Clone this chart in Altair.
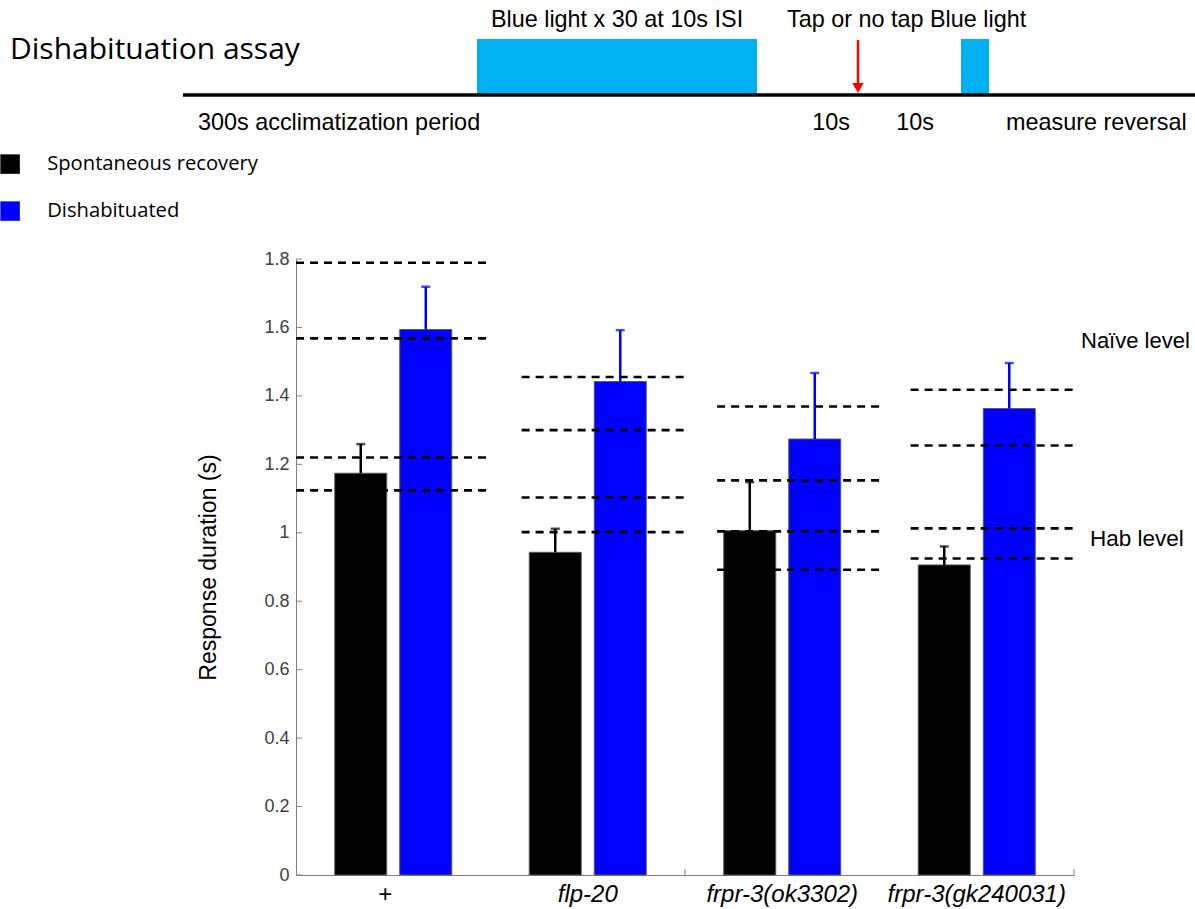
import altair as alt
import pandas as pd

# Genotypes on the x axis
groups = ["+", "flp-20", "frpr-3(ok3302)", "frpr-3(gk240031)"]
conditions = ["Spontaneous recovery", "Dishabituated"]

# Mean response duration (s) and upper SEM for each condition
spont_mean = [1.174, 0.943, 1.006, 0.906]
spont_sem = [0.085, 0.069, 0.142, 0.054]
dishab_mean = [1.594, 1.442, 1.274, 1.363]
dishab_sem = [0.125, 0.150, 0.193, 0.133]

# Reference levels per genotype: naive level band and habituated level band
naive_hi = [1.789, 1.455, 1.369, 1.418]
naive_lo = [1.568, 1.300, 1.153, 1.255]
hab_hi = [1.220, 1.103, 1.004, 1.013]
hab_lo = [1.124, 1.002, 0.892, 0.925]
# horizontal extent of the reference lines, in genotype units (0..4)
level_start = [0.0, 1.16, 2.165, 3.16]
level_end = [0.99, 2.0, 3.0, 4.0]

y_ticks = [0, 0.2, 0.4, 0.6, 0.8, 1.0, 1.2, 1.4, 1.6, 1.8]
x_inner_ticks = [2, 4]

BLACK = "#000000"
BLUE = "#0000ff"
CYAN = "#00b0f0"
SANS = "Liberation Sans"
W, H = 778, 616

bars = pd.DataFrame({
    "genotype": groups * 2,
    "condition": [conditions[0]] * 4 + [conditions[1]] * 4,
    "mean": spont_mean + dishab_mean,
    "sem": spont_sem + dishab_sem,
})
bars["upper"] = bars["mean"] + bars["sem"]

levels = pd.DataFrame({
    "start": level_start * 4,
    "end": level_end * 4,
    "level": naive_hi + naive_lo + hab_hi + hab_lo,
})

x_band = alt.X(
    "genotype:N",
    sort=groups,
    scale=alt.Scale(paddingInner=0, paddingOuter=0),
    axis=alt.Axis(
        title=None, ticks=False, domainColor="#808080", domainWidth=1,
        labelAngle=0, labelFont=SANS, labelFontSize=24, labelColor=BLACK,
        labelPadding=7, labelLimit=0,
        labelOffset=alt.condition("datum.value == '+'", alt.value(-8), alt.value(0)),
        labelFontStyle=alt.condition("datum.value == '+'", alt.value("normal"), alt.value("italic")),
    ),
)
x_off = alt.XOffset(
    "condition:N", sort=conditions,
    scale=alt.Scale(paddingInner=0.2, paddingOuter=0.596),
)
y_scale = alt.Scale(domain=[0, 1.8], nice=False, zero=True)
color = alt.Color(
    "condition:N",
    sort=conditions,
    scale=alt.Scale(domain=conditions, range=[BLACK, BLUE]),
    legend=alt.Legend(
        title=None, orient="none", legendX=-296, legendY=-105,
        symbolType="square", symbolSize=380, symbolStrokeWidth=0,
        symbolOpacity=1, labelFont="Open Sans", labelFontSize=20.2,
        labelColor=BLACK, labelOffset=27, rowPadding=26, labelLimit=0,
    ),
)

base = alt.Chart(bars)

bar_layer = base.mark_bar(stroke="#5a5a5a", strokeWidth=1, opacity=1).encode(
    x=x_band,
    xOffset=x_off,
    y=alt.Y(
        "mean:Q", scale=y_scale,
        axis=alt.Axis(
            values=y_ticks, format="~g", grid=False, ticks=False,
            domainColor="#808080", domainWidth=1,
            labelFont=SANS, labelFontSize=18, labelColor="#404040", labelPadding=7,
            title="Response duration (s)", titleFont=SANS, titleFontSize=23,
            titleFontWeight="normal", titleColor=BLACK, titlePadding=43,
        ),
    ),
    color=color,
)

# one-sided SEM whiskers with a short cap
err_rule = base.mark_rule(strokeWidth=2.5).encode(
    x=x_band,
    xOffset=x_off,
    y="mean:Q",
    y2="upper:Q",
    color=alt.Color("condition:N", sort=conditions, legend=None),
)
err_cap = base.mark_tick(orient="horizontal", size=9, thickness=2.5).encode(
    x=x_band,
    xOffset=x_off,
    y="upper:Q",
    color=alt.Color("condition:N", sort=conditions, legend=None),
)

x_lin = alt.Scale(domain=[0, 4], nice=False, zero=False)
level_layer = alt.Chart(levels).mark_rule(
    color=BLACK, strokeWidth=2.6, strokeDash=[8, 6]
).encode(
    x=alt.X("start:Q", scale=x_lin, axis=None),
    x2="end:Q",
    y="level:Q",
)

x_tick_layer = alt.Chart(pd.DataFrame({"g": x_inner_ticks})).mark_rule(
    color="#808080", strokeWidth=1
).encode(
    x=alt.X("g:Q", scale=x_lin, axis=None),
    y=alt.value(H),
    y2=alt.value(H - 6),
)

y_tick_layer = alt.Chart(pd.DataFrame({"v": y_ticks})).mark_rule(
    color="#808080", strokeWidth=1
).encode(y="v:Q", x=alt.value(0), x2=alt.value(6))


# ---- protocol schematic drawn above the plot (pixel offsets from the plot origin)
def label(text, x, y, size=23.4, align="left", font=SANS):
    return alt.Chart(pd.DataFrame({"t": [text]})).mark_text(
        align=align, baseline="middle", font=font, fontSize=size, color=BLACK
    ).encode(text="t:N", x=alt.value(x), y=alt.value(y))


def block(x0, x1, y0, y1, fill):
    return alt.Chart(pd.DataFrame({"k": [0]})).mark_rect(color=fill).encode(
        x=alt.value(x0), x2=alt.value(x1), y=alt.value(y0), y2=alt.value(y1)
    )


one = pd.DataFrame({"k": [0]})
timeline = alt.Chart(one).mark_rule(color=BLACK, strokeWidth=3.5).encode(
    x=alt.value(-113), x2=alt.value(899), y=alt.value(-164)
)
arrow_shaft = alt.Chart(one).mark_rule(color="#ff0000", strokeWidth=2.5).encode(
    x=alt.value(562), y=alt.value(-219), y2=alt.value(-176)
)
arrow_head = alt.Chart(one).mark_point(
    shape="triangle-down", filled=True, color="#ff0000", size=130, opacity=1
).encode(x=alt.value(562), y=alt.value(-171))

schematic = alt.layer(
    block(181, 461, -220, -164, CYAN),
    block(665, 693, -220, -164, CYAN),
    timeline,
    arrow_shaft,
    arrow_head,
    label("Dishabituation assay", -286, -209, size=30, font="Open Sans"),
    label("Blue light x 30 at 10s ISI", 321, -239, align="center"),
    label("Tap or no tap", 491, -239),
    label("Blue light", 634, -239),
    label("300s acclimatization period", -98, -136),
    label("10s", 535, -136, align="center"),
    label("10s", 619, -136, align="center"),
    label("measure reversal", 710, -136),
    label("Naïve level", 785, 82, size=22),
    label("Hab level", 794, 280, size=22.5),
)

bar_group = alt.layer(bar_layer, err_rule, err_cap)
ref_group = alt.layer(level_layer, x_tick_layer)

chart = alt.layer(
    bar_group, ref_group, y_tick_layer, schematic
).resolve_scale(x="independent").properties(
    width=W,
    height=H,
    autosize=alt.AutoSizeParams(type="none"),
    padding={"left": 296, "top": 259, "right": 121, "bottom": 34},
    background="white",
).configure_view(stroke=None)

chart.save("out.html", embed_options={"renderer": "svg", "actions": False})
